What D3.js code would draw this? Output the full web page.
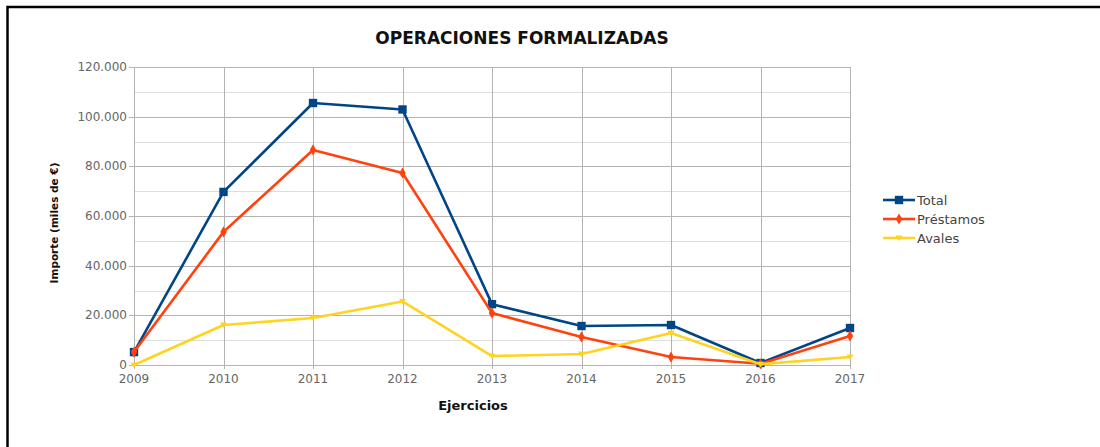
<!DOCTYPE html>
<html>
<head>
<meta charset="utf-8">
<script src="https://cdn.jsdelivr.net/npm/d3@7"></script>
<style>
  body { margin: 0; background: #fff; }
  svg { display: block; }
</style>
</head>
<body>
<div id="chart"></div>
<script>
var width = 1100, height = 447;

// data (miles de €)
var years = ["2009", "2010", "2011", "2012", "2013", "2014", "2015", "2016", "2017"];
var total = [5200, 69700, 105500, 102900, 24500, 15700, 16100, 800, 14900];
var prestamos = [5200, 53600, 86600, 77300, 20900, 11300, 3200, 500, 11700];
var avales = [0, 16100, 18900, 25600, 3600, 4400, 12900, 300, 3200];
var yTicks = [0, 20000, 40000, 60000, 80000, 100000, 120000];
var yMinor = [10000, 30000, 50000, 70000, 90000, 110000];

var series = [
  {name: "Total", values: total, color: "#004586", symbol: "square"},
  {name: "Préstamos", values: prestamos, color: "#ff420e", symbol: "diamond"},
  {name: "Avales", values: avales, color: "#ffd320", symbol: "triangle"}
];

var x = d3.scalePoint().domain(years).range([134, 850]);
var y = d3.scaleLinear().domain([0, 120000]).range([365, 67]);

var locale = d3.formatLocale({decimal: ",", thousands: ".", grouping: [3], currency: ["", " €"]});
var fmt = locale.format(",");

var svg = d3.select("#chart").append("svg")
  .attr("width", width)
  .attr("height", height);

// frame (top and left edges only visible)
svg.append("path")
  .attr("d", "M7.5," + height + "V7H" + width)
  .attr("fill", "none")
  .attr("stroke", "#000")
  .attr("stroke-width", 2.5);

// title
svg.append("text")
  .attr("x", 522).attr("y", 44)
  .attr("text-anchor", "middle")
  .style("font-family", "DejaVu Sans")
  .style("font-weight", "bold")
  .style("font-size", "17px")
  .attr("fill", "#111")
  .text("OPERACIONES FORMALIZADAS");

var G = svg.append("g");

// minor grid
G.selectAll("line.minor").data(yMinor).enter().append("line")
  .attr("class", "minor")
  .attr("x1", 134).attr("x2", 850)
  .attr("y1", d => Math.round(y(d)) + 0.5).attr("y2", d => Math.round(y(d)) + 0.5)
  .attr("stroke", "#dddddd");

// major grid
G.selectAll("line.major").data(yTicks).enter().append("line")
  .attr("class", "major")
  .attr("x1", 129).attr("x2", 850)
  .attr("y1", d => Math.round(y(d)) + 0.5).attr("y2", d => Math.round(y(d)) + 0.5)
  .attr("stroke", "#b3b3b3");

// vertical grid
G.selectAll("line.vert").data(years).enter().append("line")
  .attr("class", "vert")
  .attr("x1", d => Math.round(x(d)) + 0.5).attr("x2", d => Math.round(x(d)) + 0.5)
  .attr("y1", 67).attr("y2", 369)
  .attr("stroke", "#b3b3b3");

// y tick labels
G.selectAll("text.ytick").data(yTicks).enter().append("text")
  .attr("class", "ytick")
  .attr("x", 127)
  .attr("y", d => y(d) + 4)
  .attr("text-anchor", "end")
  .style("font-family", "DejaVu Sans")
  .style("font-size", "12px")
  .attr("fill", "#666")
  .text(d => fmt(d));

// x tick labels
G.selectAll("text.xtick").data(years).enter().append("text")
  .attr("class", "xtick")
  .attr("x", d => x(d))
  .attr("y", 383)
  .attr("text-anchor", "middle")
  .style("font-family", "DejaVu Sans")
  .style("font-size", "12px")
  .attr("fill", "#666")
  .text(d => d);

// axis titles
svg.append("text")
  .attr("transform", "translate(58,223) rotate(-90)")
  .attr("text-anchor", "middle")
  .style("font-family", "DejaVu Sans")
  .style("font-weight", "bold")
  .style("font-size", "10.5px")
  .attr("fill", "#111")
  .text("Importe (miles de €)");

svg.append("text")
  .attr("x", 473).attr("y", 410)
  .attr("text-anchor", "middle")
  .style("font-family", "DejaVu Sans")
  .style("font-weight", "bold")
  .style("font-size", "13px")
  .attr("fill", "#111")
  .text("Ejercicios");

function symbolPath(kind) {
  if (kind == "square") return d3.symbol().type(d3.symbolSquare).size(70)();
  if (kind == "diamond") return d3.symbol().type(d3.symbolDiamond).size(36)();
  return "M-3.5,-2.5L3.5,-2.5L0,3Z";
}

var line = d3.line()
  .x((d, i) => x(years[i]))
  .y(d => y(d));

series.forEach(function(s) {
  G.append("path")
    .datum(s.values)
    .attr("d", line)
    .attr("fill", "none")
    .attr("stroke", s.color)
    .attr("stroke-width", 2.6)
    .attr("stroke-linejoin", "round");
  G.selectAll(null).data(s.values).enter().append("path")
    .attr("transform", (d, i) => "translate(" + x(years[i]) + "," + y(d) + ")")
    .attr("d", symbolPath(s.symbol))
    .attr("fill", s.color);
});

// legend
var legend = svg.append("g").attr("transform", "translate(883,200)");
var items = legend.selectAll("g").data(series).enter().append("g")
  .attr("transform", (d, i) => "translate(0," + (i * 19) + ")");
items.append("line")
  .attr("x1", 0).attr("x2", 32)
  .attr("stroke", d => d.color)
  .attr("stroke-width", 2.6);
items.append("path")
  .attr("transform", "translate(16,0)")
  .attr("d", d => symbolPath(d.symbol))
  .attr("fill", d => d.color);
items.append("text")
  .attr("x", 34).attr("y", 4.5)
  .style("font-family", "DejaVu Sans")
  .style("font-size", "13px")
  .attr("fill", "#444")
  .text(d => d.name);
</script>
</body>
</html>
